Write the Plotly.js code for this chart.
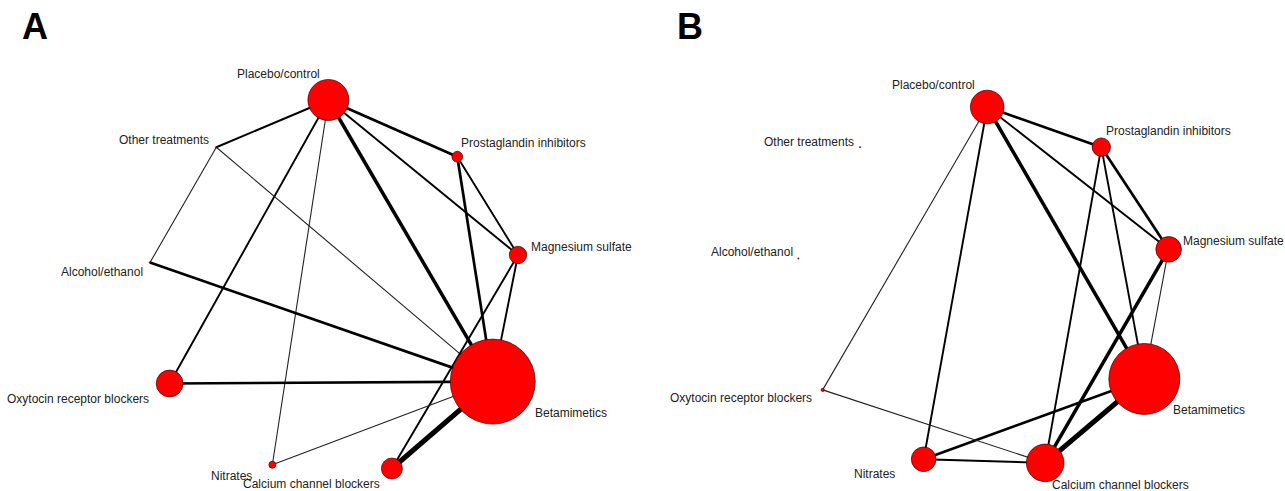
<!DOCTYPE html>
<html>
<head>
<meta charset="utf-8">
<script src="https://cdn.plot.ly/plotly-3.0.1.min.js"></script>
<style>html,body{margin:0;padding:0;background:#fff;}#chart{width:1285px;height:491px;}</style>
</head>
<body>
<div id="chart"></div>
<script>
// ---- DATA ----
const treatments = ['Placebo/control','Prostaglandin inhibitors','Magnesium sulfate','Betamimetics',
  'Calcium channel blockers','Nitrates','Oxytocin receptor blockers','Alcohol/ethanol','Other treatments'];
const panelLabels = ['A','B'];

// network layout coordinates (unit circle space)
const nodeXA = [-0.03, 0.66, 0.985, 0.85, 0.31, -0.33, -0.88, -0.985, -0.63];
const nodeYA = [1.00, 0.70, 0.18, -0.49, -0.95, -0.93, -0.50, 0.14, 0.75];
const nodeXB = [0.02, 0.63, 0.99, 0.86, 0.33, -0.32, -0.86, -0.99, -0.66];
const nodeYB = [1.00, 0.78, 0.22, -0.49, -0.95, -0.93, -0.55, 0.17, 0.78];

// node weights (relative node radius)
const nodeWeightA = [20.5, 5.4, 8.7, 42.5, 10.5, 3.5, 13.4, 0.8, 0.8];
const nodeWeightB = [16.8, 9.2, 12.8, 35.5, 18.8, 12.3, 1.6, 0.6, 0.6];

// edges: from index, to index, number of trials (line thickness)
const edgeFromA   = [0, 0, 0, 0, 0, 0, 8, 8, 7, 6, 1, 1, 2, 2, 3, 3];
const edgeToA     = [8, 1, 2, 3, 6, 5, 7, 3, 3, 3, 3, 2, 3, 4, 4, 5];
const edgeTrialsA = [2, 3, 2, 4, 2, 1, 1, 1, 3, 3, 3, 2, 2, 2, 6, 1];

const edgeFromB   = [0, 0, 0, 0, 0, 1, 1, 1, 2, 2, 3, 3, 5, 6];
const edgeToB     = [6, 5, 3, 1, 2, 4, 3, 2, 4, 3, 4, 5, 4, 4];
const edgeTrialsB = [1, 2, 4, 3, 2, 2, 2, 3, 4, 1, 6, 3, 2, 1];

// ---- LAYOUT / STYLE CONFIG ----
const W = 1285, H = 491;
const panelGeom = [
  {d0: 0, d1: 642.5, cx: 334, cy: 289, rx: 186.8, ry: 189},
  {d0: 642.5, d1: 1285, cx: 983.5, cy: 289.5, rx: 187, ry: 182.5}
];
// label offsets in px from node centre: [anchor, dx, dy(down)]
const labelCfg = [
  [['right',-6,-26],['left',2,-14],['left',11,-8],['left',40,31],['right',-10,15],
   ['right',-18,11],['right',-19,15],['right',-5,9],['right',-5,-7]],
  [['right',-10,-22],['left',3,-16],['left',12,-8],['left',27,31],['left',5,22],
   ['right',-27,15],['right',-9,8],['right',-3,-6],['right',-4,-5]]
];
const letterPos = [[35, 27], [690, 27]];

const panels = [
  {x: nodeXA, y: nodeYA, w: nodeWeightA, f: edgeFromA, t: edgeToA, n: edgeTrialsA},
  {x: nodeXB, y: nodeYB, w: nodeWeightB, f: edgeFromB, t: edgeToB, n: edgeTrialsB}
];

const traces = [];
const annotations = [];
const layout = {
  width: W, height: H,
  margin: {l: 0, r: 0, t: 0, b: 0},
  paper_bgcolor: '#fff', plot_bgcolor: '#fff',
  showlegend: false, hovermode: false
};

panels.forEach((p, k) => {
  const g = panelGeom[k];
  const xa = k === 0 ? 'x' : 'x2', ya = k === 0 ? 'y' : 'y2';
  const xKey = k === 0 ? 'xaxis' : 'xaxis2', yKey = k === 0 ? 'yaxis' : 'yaxis2';
  const a = -(g.cx - g.d0) / g.rx;
  const b = a + (g.d1 - g.d0) / g.rx;
  const top = g.cy / g.ry, bot = top - H / g.ry;
  layout[xKey] = {domain: [g.d0 / W, g.d1 / W], range: [a, b], visible: false, fixedrange: true,
                  anchor: ya};
  layout[yKey] = {domain: [0, 1], range: [bot, top], visible: false, fixedrange: true, anchor: xa};

  // edges
  for (let e = 0; e < p.f.length; e++) {
    const i = p.f[e], j = p.t[e];
    traces.push({
      type: 'scatter', mode: 'lines', xaxis: xa, yaxis: ya,
      x: [p.x[i], p.x[j]], y: [p.y[i], p.y[j]],
      line: {color: p.n[e] === 1 ? '#222' : '#000', width: 0.3 + 0.8 * p.n[e]},
      cliponaxis: false, hoverinfo: 'skip'
    });
  }
  // nodes
  traces.push({
    type: 'scatter', mode: 'markers', xaxis: xa, yaxis: ya,
    x: p.x, y: p.y,
    marker: {size: p.w.map(v => 2 * v), sizemode: 'diameter', color: '#ff0000', opacity: 1,
             line: {color: '#3a0000', width: 0.7}},
    cliponaxis: false, hoverinfo: 'skip'
  });
  // labels
  treatments.forEach((name, i) => {
    const c = labelCfg[k][i];
    annotations.push({
      xref: xa, yref: ya, x: p.x[i], y: p.y[i], text: name, showarrow: false,
      xanchor: c[0], yanchor: 'middle', xshift: c[1], yshift: -c[2],
      font: {family: 'Liberation Sans, Arial, sans-serif', size: 12, color: '#222'}
    });
  });
  annotations.push({
    xref: 'paper', yref: 'paper', x: letterPos[k][0] / W, y: 1 - letterPos[k][1] / H,
    text: '<b>' + panelLabels[k] + '</b>', showarrow: false, xanchor: 'center', yanchor: 'middle',
    font: {family: 'Liberation Sans, Arial, sans-serif', size: 36, color: '#000'}
  });
});
layout.annotations = annotations;

Plotly.newPlot('chart', traces, layout, {staticPlot: true, displayModeBar: false});
</script>
</body>
</html>
